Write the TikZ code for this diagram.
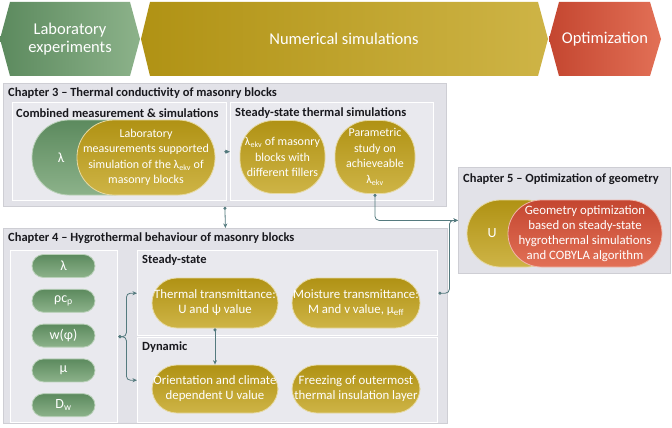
\documentclass[tikz,border=0pt]{standalone}
\usepackage{fontspec}
\setmainfont{Carlito}
\usetikzlibrary{arrows.meta, positioning}
\definecolor{labgreen}{RGB}{92,138,94}
\definecolor{labgreenlight}{RGB}{140,178,138}
\definecolor{simolive}{RGB}{176,146,20}
\definecolor{simolivelight}{RGB}{206,180,70}
\definecolor{optred}{RGB}{196,70,48}
\definecolor{optredlight}{RGB}{226,112,86}
\definecolor{boxgray}{RGB}{226,226,232}
\definecolor{subgray}{RGB}{233,233,238}
\definecolor{boxedge}{RGB}{206,206,212}
\definecolor{linkteal}{RGB}{84,122,126}
\definecolor{titledark}{RGB}{25,25,30}

\begin{document}
\begin{tikzpicture}[x=1pt, y=-1pt,
        every node/.style={font=\fontsize{12}{15.5}\selectfont},
        banner/.style={text=white, align=center, font=\fontsize{16.5}{18.5}\selectfont},
        chapbox/.style={rectangle, anchor=north west, inner sep=0pt, fill=boxgray, draw=boxedge, line width=0.8pt},
        subbox/.style={rectangle, anchor=north west, inner sep=0pt, fill=subgray, draw=white, line width=1.4pt},
        chaptitle/.style={anchor=west, inner sep=0pt, text=titledark, font=\fontsize{12.5}{14}\selectfont\bfseries},
        pill/.style={rectangle, rounded corners=#1, line width=0.8pt, text=white, align=center, inner sep=1pt},
        greenpill/.style={pill=#1, draw=labgreenlight!60!white, top color=labgreen, bottom color=labgreenlight},
        olivepill/.style={pill=#1, draw=simolivelight!50!white, top color=simolive, bottom color=simolivelight},
        redpill/.style={pill=#1, draw=optredlight!50!white, top color=optred, bottom color=optredlight},
        paramtext/.style={font=\fontsize{14}{16}\selectfont},
        bigtext/.style={font=\fontsize{12.8}{15}\selectfont},
        link/.style={line width=0.8pt, {Circle[length=3pt]}-{Stealth[length=4.5pt, width=4pt]}, color=linkteal, rounded corners=4pt}
    ]
        \useasboundingbox (0,0) rectangle (672,428);
        \fill[white] (0,0) rectangle (672,428);

        % phase banners
        \shade[left color=labgreen, right color=labgreenlight] (0,39) -- (10,2) -- (130,2) -- (140,39) -- (130,76) -- (10,76) -- cycle;
        \shade[left color=simolive, right color=simolivelight] (141,39) -- (150,2) -- (538,2) -- (548,39) -- (538,76) -- (150,76) -- cycle;
        \shade[left color=optred, right color=optredlight] (549,39) -- (559,2) -- (650,2) -- (661,39) -- (650,76) -- (559,76) -- cycle;
        \node[banner] (labexp) at (70,39) {Laboratory\\experiments};
        \node[banner] (numsim) at (344,39) {Numerical simulations};
        \node[banner] (optim) at (605,39) {Optimization};

        % chapter 3
        \node[chapbox, minimum width=443pt, minimum height=123pt] (ch3) at (3,83) {};
        \node[chaptitle] (ch3title) at (8,93) {Chapter 3 – Thermal conductivity of masonry blocks};
        \node[subbox, minimum width=214pt, minimum height=98pt] (combined) at (12,102) {};
        \node[chaptitle] (combtitle) at (16,113) {Combined measurement \& simulations};
        \node[subbox, minimum width=203pt, minimum height=98pt] (steadysim) at (230,102) {};
        \node[chaptitle] (steadytitle) at (235,113) {Steady-state thermal simulations};
        \node[greenpill=37pt, minimum width=118pt, minimum height=75pt] (lambdapill) at (91,157.5) {};
        \node[text=white, paramtext] (lambdasym) at (61,157.5) {λ};
        \node[olivepill=37pt, minimum width=138pt, minimum height=75pt] (labmeas) at (146,157.5) {Laboratory\\measurements supported\\simulation of the λ\textsubscript{ekv} of\\masonry blocks};
        \node[olivepill=34pt, minimum width=85pt, minimum height=73pt] (fillers) at (282.5,157) {λ\textsubscript{ekv} of masonry\\blocks with\\different fillers};
        \node[olivepill=34pt, minimum width=80pt, minimum height=73pt] (parstudy) at (375,157) {Parametric\\study on\\achieveable\\λ\textsubscript{ekv}};

        % chapter 4
        \node[chapbox, minimum width=444pt, minimum height=195pt] (ch4) at (3,228) {};
        \node[chaptitle] (ch4title) at (8,238) {Chapter 4 – Hygrothermal behaviour of masonry blocks};
        \node[subbox, minimum width=107pt, minimum height=172pt] (params) at (10,250) {};
        \node[greenpill=11.5pt, paramtext, minimum width=63pt, minimum height=23pt] (plambda) at (63.5,266) {λ};
        \node[greenpill=11.5pt, paramtext, minimum width=63pt, minimum height=23pt, below=11pt of plambda] (prhocp) {ρc\textsubscript{p}};
        \node[greenpill=11.5pt, paramtext, minimum width=63pt, minimum height=23pt, below=11pt of prhocp] (pwphi) {w(φ)};
        \node[greenpill=11.5pt, paramtext, minimum width=63pt, minimum height=23pt, below=11pt of pwphi] (pmu) {μ};
        \node[greenpill=11.5pt, paramtext, minimum width=63pt, minimum height=23pt, below=11pt of pmu] (pdw) {D\textsubscript{w}};
        \node[subbox, minimum width=300pt, minimum height=85pt] (ststate) at (137,250) {};
        \node[chaptitle] (ststatetitle) at (142,260) {Steady-state};
        \node[subbox, minimum width=300pt, minimum height=85pt] (dynamic) at (137,337) {};
        \node[chaptitle] (dynamictitle) at (142,347) {Dynamic};
        \node[olivepill=25pt, bigtext, minimum width=126pt, minimum height=50pt] (thermal) at (215,303) {Thermal transmittance:\\U and ψ value};
        \node[olivepill=25pt, bigtext, minimum width=128pt, minimum height=50pt] (moisture) at (356,303) {Moisture transmittance:\\M and v value, μ\textsubscript{eff}};
        \node[olivepill=25pt, bigtext, minimum width=126pt, minimum height=48pt] (orient) at (215,389) {Orientation and climate\\dependent U value};
        \node[olivepill=25pt, bigtext, minimum width=128pt, minimum height=48pt] (freezing) at (356,389) {Freezing of outermost\\thermal insulation layer};

        % chapter 5
        \node[chapbox, minimum width=212pt, minimum height=106pt] (ch5) at (458,167) {};
        \node[chaptitle] (ch5title) at (463,179) {Chapter 5 – Optimization of geometry};
        \node[olivepill=33.5pt, minimum width=93pt, minimum height=67pt] (upill) at (513.5,233.5) {};
        \node[text=white, paramtext] (usym) at (492,233.5) {U};
        \node[redpill=33.5pt, bigtext, minimum width=154pt, minimum height=67pt] (geomopt) at (585,233.5) {Geometry optimization\\based on steady-state\\hygrothermal simulations\\and COBYLA algorithm};

        % connectors
        \draw[link] (combined.east) -- (steadysim.west);
        \draw[link] (ch3.south) -- (ch4.north);
        \draw[link] (parstudy.south) |- (ch5.west);
        \draw[link] (ststate.east) -- ++(11,0) |- (ch5.west);
        \draw[link] (params.east) -- ++(8,0) |- (ststate.west);
        \draw[link] (params.east) -- ++(8,0) |- (dynamic.west);
        \draw[link] (thermal.south) -- (orient.north);

    \end{tikzpicture}
\end{document}
